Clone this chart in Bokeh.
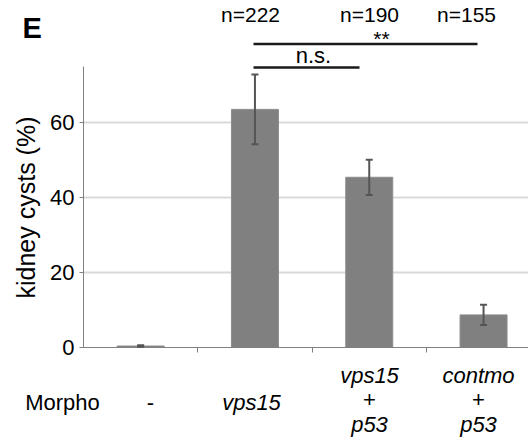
import numpy as np
from bokeh.plotting import figure
from bokeh.models import (Range1d, LinearAxis, FixedTicker, ColumnDataSource,
                          Whisker, TeeHead)
from bokeh.core.properties import value
from bokeh.embed import file_html
from bokeh.resources import INLINE

# ---- data ----
groups = ["-", "vps15", "vps15 + p53", "contmo + p53"]
cysts = [0.4, 63.5, 45.4, 8.7]
errors = [0.2, 9.3, 4.7, 2.7]
n_labels = ["", "n=222", "n=190", "n=155"]
y_ticks = [0, 20, 40, 60]
y_axis_top = 75

FONT = "Liberation Sans"

# layout helpers (page px -> data)
FL, FB = 83.0, 347.0          # axis x-position / y=0 position on page
PXU, PYU = 114.3, 3.75        # px per x unit, px per y unit
W, H = 528, 445
TXT_SHIFT = 8                 # compensate svg text baseline offset
def dx(px):
    return (px - FL) / PXU
def dy(py):
    return (FB - py) / PYU

p = figure(width=W, height=H, output_backend="svg", toolbar_location=None,
           x_range=Range1d(dx(0), dx(W)), y_range=Range1d(dy(H), dy(0)),
           x_axis_type=None, y_axis_type=None,
           min_border_left=0, min_border_right=0, min_border_top=0, min_border_bottom=0)
p.outline_line_color = None
p.background_fill_color = "white"
p.border_fill_color = "white"
p.xgrid.visible = False
p.ygrid.visible = False

# grid lines (from the y ticks, right of the axis)
gy = y_ticks[1:]
p.segment(x0=[0] * len(gy), x1=[dx(W)] * len(gy), y0=gy, y1=gy,
          line_color="#d9d9d9", line_width=2)

# axes
yax = LinearAxis(ticker=FixedTicker(ticks=y_ticks), bounds=(0, y_axis_top),
                 fixed_location=0)
yax.axis_line_color = "#808080"
yax.major_tick_line_color = "#808080"
yax.major_tick_out = 4
yax.major_tick_in = 0
yax.minor_tick_line_color = None
yax.major_label_text_font = FONT
yax.major_label_text_font_size = "22px"
yax.major_label_text_color = "black"
yax.major_label_standoff = 5
p.add_layout(yax, "left")

xax = LinearAxis(ticker=FixedTicker(ticks=[1, 2, 3]), bounds=(0, dx(W)),
                 fixed_location=0)
xax.axis_line_color = "#808080"
xax.major_tick_line_color = "#808080"
xax.major_tick_out = 5
xax.major_tick_in = 0
xax.minor_tick_line_color = None
xax.major_label_text_font_size = "0px"
xax.major_label_text_alpha = 0
p.add_layout(xax, "below")

# bars
xc = np.arange(len(groups)) + 0.5
src = ColumnDataSource(dict(x=xc, y=cysts,
                            lo=np.array(cysts) - np.array(errors),
                            hi=np.array(cysts) + np.array(errors)))
p.vbar(x="x", top="y", bottom=0, width=47 / PXU, source=src,
       fill_color="#808080", line_color="#8c8c8c", line_width=1)

wk = Whisker(base="x", upper="hi", lower="lo", source=src,
             line_color="#555555", line_width=2, level="overlay",
             upper_head=TeeHead(size=7, line_color="#555555", line_width=2),
             lower_head=TeeHead(size=7, line_color="#555555", line_width=2))
p.add_layout(wk)

def txt(px, py, s, size="22px", style="normal", align="center", angle=0.0,
        baseline="alphabetic", shift=True):
    yy = py - TXT_SHIFT if shift else py
    p.text(x=[dx(px)], y=[dy(yy)], text=[s], text_font=value(FONT),
           text_font_size=size, text_font_style=style, text_align=align,
           text_baseline=baseline, angle=angle, text_color="black")

# n labels
n_px = [None, 250, 369, 466]
for lbl, px in zip(n_labels, n_px):
    if lbl:
        txt(px, 22, lbl, size="21px")

# significance bars
p.segment(x0=[dx(253), dx(253)], y0=[dy(43.5), dy(67)],
          x1=[dx(477), dx(359)], y1=[dy(43.5), dy(67)],
          line_color="#1a1a1a", line_width=2.5)
txt(381, 46, "**", size="21px")
txt(313, 63, "n.s.", size="22px")

# panel letter
txt(22, 35, "E", size="29px", style="bold", align="left")

# y label
txt(25, 207, "kidney cysts (%)", size="25px", angle=np.pi / 2,
    baseline="middle", shift=False)

# category labels below
lab_rows = [
    ("Morpho", 62, 410, "normal"),
    ("-", 150, 410, "normal"),
    ("vps15", 251, 410, "italic"),
    ("vps15", 369, 383, "italic"),
    ("+", 369, 407, "normal"),
    ("p53", 369, 432, "italic"),
    ("contmo", 478, 383, "italic"),
    ("+", 478, 407, "normal"),
    ("p53", 478, 432, "italic"),
]
for s, px, py, st in lab_rows:
    txt(px, py, s, style=st)

open("out.html", "w").write(file_html(p, INLINE))
